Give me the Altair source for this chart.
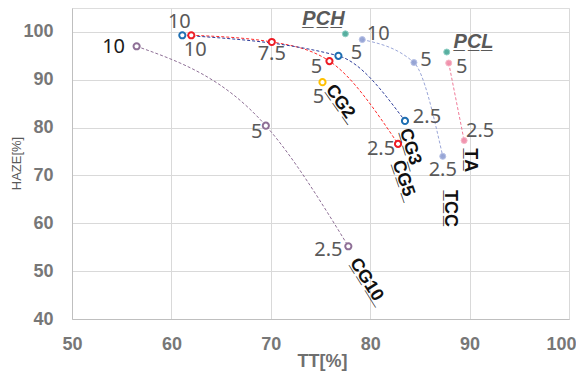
import altair as alt
import pandas as pd

# ---------------- data ----------------
CG10_tt = [56.5, 69.5, 77.8]
CG10_haze = [97.0, 80.4, 55.2]
CG10_dose = ["10", "5", "2.5"]

CG5_tt = [62.0, 70.1, 75.9, 82.8]
CG5_haze = [99.3, 97.9, 93.9, 76.6]
CG5_dose = ["10", "7.5", "5", "2.5"]

CG3_tt = [61.1, 76.8, 83.5]
CG3_haze = [99.3, 95.0, 81.4]
CG3_dose = ["10", "5", "2.5"]

CG2_tt = [75.2]
CG2_haze = [89.5]
CG2_dose = ["5"]

TCC_tt = [79.2, 84.4, 87.3]
TCC_haze = [98.4, 93.6, 74.0]
TCC_dose = ["10", "5", "2.5"]

TA_tt = [87.9, 89.45]
TA_haze = [93.5, 77.3]
TA_dose = ["5", "2.5"]

PCH_tt = [77.5]
PCH_haze = [99.6]
PCH_dose = [""]

PCL_tt = [87.7]
PCL_haze = [95.8]
PCL_dose = [""]

series_names = ["CG10", "CG5", "CG3", "CG2", "TCC", "TA", "PCH", "PCL"]
x_ticks = [50, 60, 70, 80, 90, 100]
y_ticks = [40, 50, 60, 70, 80, 90, 100]

# ---------------- styles ----------------
marker_colors = {
    "CG10": "#8e6f96", "CG5": "#ee1c25", "CG3": "#1f6fb2", "CG2": "#ffc000",
    "TCC": "#8e9dd2", "TA": "#f08aa6", "PCH": "#46a696", "PCL": "#46a696",
}
marker_edge = {"TCC": "#b8c2e6", "TA": "#f6b8c8", "PCH": "#8fcfc4", "PCL": "#8fcfc4"}
line_colors = {
    "CG10": "#8e6f96", "CG5": "#ff2a2a", "CG3": "#2e3d9a", "TCC": "#9aa6d8", "TA": "#f07a98",
}
open_series = ["CG10", "CG5", "CG3", "CG2"]
filled_series = ["TCC", "TA", "PCH", "PCL"]

# label offsets in pixels (dx, dy) per point, same order as the data
label_offsets = {
    "CG10": [(-23, 1), (-9, 6), (-20, 4)],
    "CG5": [(4, 15), (0, 12), (-13, 6), (-17, 5)],
    "CG3": [(-3, -13), (18, -3), (22, -4)],
    "CG2": [(-4, 15)],
    "TCC": [(16, -6), (12, -3), (0, 14)],
    "TA": [(13, 4), (16, -10)],
    "PCH": [(0, 0)],
    "PCL": [(0, 0)],
}
label_colors = {"CG10": ["#1a1a1a", "#595959", "#595959"]}

# series-name annotation anchors (data units) and rotation
name_tt = {"CG10": 79.6, "CG5": 83.3, "CG3": 84.0, "CG2": 76.95, "TCC": 88.0, "TA": 90.05,
           "PCH": 75.3, "PCL": 90.4}
name_haze = {"CG10": 48.2, "CG5": 69.4, "CG3": 76.0, "CG2": 85.4, "TCC": 63.1, "TA": 73.2,
             "PCH": 102.6, "PCL": 97.95}
name_angle = {"CG10": 58, "CG5": 71, "CG3": 73, "CG2": 55, "TCC": 90, "TA": 90, "PCH": 0, "PCL": 0}

data = {
    "CG10": (CG10_tt, CG10_haze, CG10_dose),
    "CG5": (CG5_tt, CG5_haze, CG5_dose),
    "CG3": (CG3_tt, CG3_haze, CG3_dose),
    "CG2": (CG2_tt, CG2_haze, CG2_dose),
    "TCC": (TCC_tt, TCC_haze, TCC_dose),
    "TA": (TA_tt, TA_haze, TA_dose),
    "PCH": (PCH_tt, PCH_haze, PCH_dose),
    "PCL": (PCL_tt, PCL_haze, PCL_dose),
}

rows = []
for s in series_names:
    tts, hz, ds = data[s]
    for i, (t, h, d) in enumerate(zip(tts, hz, ds)):
        dx, dy = label_offsets[s][i]
        lc = label_colors.get(s, ["#595959"] * len(tts))[i]
        rows.append({"series": s, "tt": t, "haze": h, "dose": d, "order": i,
                     "dx": dx, "dy": dy, "lcolor": lc,
                     "mcolor": marker_colors[s], "ecolor": marker_edge.get(s, marker_colors[s])})
df = pd.DataFrame(rows)


def underline(txt):
    return "".join(c + "\u0332" for c in txt)


names_df = pd.DataFrame([
    {"series": s, "tt": name_tt[s], "haze": name_haze[s], "ang": name_angle[s],
     "name": underline(s)}
    for s in series_names
])

W, H = 497, 311
x_scale = alt.Scale(domain=[50, 100], nice=False, zero=False)
y_scale = alt.Scale(domain=[40, 105], nice=False, zero=False)

x_axis = alt.Axis(values=x_ticks, grid=True, gridColor="#d9d9d9", domainColor="#bfbfbf",
                  ticks=False, labelFlush=False, labelFont="Liberation Sans", labelFontWeight="bold",
                  labelFontSize=18, labelColor="#777777", labelPadding=16,
                  labelOffset={"condition": {"test": "datum.value == 100", "value": -8}, "value": 0},
                  title="TT[%]", titleFont="Liberation Sans", titleFontWeight="bold",
                  titleFontSize=18, titleColor="#6f6f6f", titleX=250, titleY=42,
                  titleAlign="center", titleBaseline="middle")
y_axis = alt.Axis(values=y_ticks, grid=True, gridColor="#d9d9d9", domainColor="#bfbfbf",
                  ticks=False, labelFlush=False, labelFont="Liberation Sans", labelFontWeight="bold",
                  labelFontSize=18, labelColor="#777777", labelPadding=19,
                  title="HAZE[%]", titleFont="Liberation Sans", titleFontWeight="normal",
                  titleFontSize=13, titleColor="#595959", titleX=-56, titleY=155,
                  titleAngle=270, titleAlign="center", titleBaseline="middle")

base = alt.Chart(df)
X = alt.X("tt:Q", scale=x_scale, axis=x_axis)
Y = alt.Y("haze:Q", scale=y_scale, axis=y_axis)
Xn = alt.X("tt:Q", scale=x_scale)
Yn = alt.Y("haze:Q", scale=y_scale)

line_dom = list(line_colors.keys())
lines = base.transform_filter(
    alt.FieldOneOfPredicate(field="series", oneOf=line_dom)
).mark_line(strokeDash=[3, 2], strokeWidth=1, interpolate="monotone").encode(
    x=X, y=Y,
    color=alt.Color("series:N", scale=alt.Scale(domain=line_dom, range=[line_colors[s] for s in line_dom]), legend=None),
    detail="series:N",
    order="order:Q",
)

open_pts = base.transform_filter(
    alt.FieldOneOfPredicate(field="series", oneOf=open_series)
).mark_point(shape="circle", filled=False, fill="white", fillOpacity=1, size=38, strokeWidth=2, opacity=1).encode(
    x=Xn, y=Yn,
    stroke=alt.Stroke("mcolor:N", scale=None),
)

filled_pts = base.transform_filter(
    alt.FieldOneOfPredicate(field="series", oneOf=filled_series)
).mark_point(shape="circle", filled=True, size=36, strokeWidth=1, opacity=1, fillOpacity=0.9).encode(
    x=Xn, y=Yn,
    fill=alt.Fill("mcolor:N", scale=None),
    stroke=alt.Stroke("ecolor:N", scale=None),
)

dose_labels = base.transform_filter("datum.dose != ''").mark_text(
    font="Noto Sans", fontSize=20, align="center", baseline="middle",
    dx=alt.ExprRef("datum.dx"), dy=alt.ExprRef("datum.dy"),
).encode(
    x=Xn, y=Yn, text="dose:N", color=alt.Color("lcolor:N", scale=None),
)

name_base = alt.Chart(names_df)
cg_names = name_base.transform_filter(
    alt.FieldOneOfPredicate(field="series", oneOf=["CG10", "CG5", "CG3", "CG2", "TCC", "TA"])
).mark_text(font="Liberation Sans", fontSize=18, fontWeight="bold", color="#111111",
            align="center", baseline="middle").encode(
    x=Xn, y=Yn, text="name:N", angle=alt.Angle("ang:Q", scale=None),
)
pc_names = name_base.transform_filter(
    alt.FieldOneOfPredicate(field="series", oneOf=["PCH", "PCL"])
).mark_text(font="Liberation Sans", fontSize=20, fontWeight="bold", fontStyle="italic",
            color="#595959", align="center", baseline="middle").encode(
    x=Xn, y=Yn, text="name:N",
)

chart = alt.layer(lines, open_pts, filled_pts, dose_labels, cg_names, pc_names).properties(
    width=W, height=H,
    autosize=alt.AutoSizeParams(type="none"),
    padding={"left": 64, "top": 0, "right": 7, "bottom": 54},
).configure_view(strokeWidth=0).configure(background="white")

chart.save("out.html", embed_options={"renderer": "svg", "actions": False})
